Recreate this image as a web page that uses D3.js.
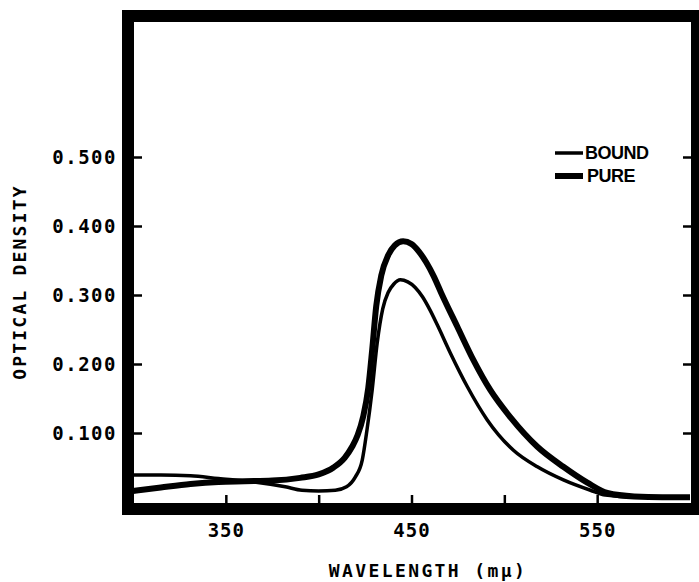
<!DOCTYPE html>
<html>
<head>
<meta charset="utf-8">
<script src="https://cdn.jsdelivr.net/npm/d3@7"></script>
<style>
  body { margin: 0; background: #fff; }
  svg { display: block; }
  .tickLabel { font-family: "DejaVu Sans Mono", monospace; font-weight: bold; font-size: 19px; fill: #000; }
  .axisTitle { font-family: "DejaVu Sans Mono", monospace; font-weight: bold; fill: #000; }
  .legendText { font-family: "Liberation Sans", Arial, sans-serif; font-weight: bold; font-size: 18px; fill: #000; }
</style>
</head>
<body>
<div class="chart"></div>
<script>
// values (wavelength in m\u03bc, optical density)
var pureWl = [300, 315, 331, 346, 360, 375, 390, 400, 408, 414, 418, 421, 424, 426.7, 428.8, 431, 433.7, 437.5, 441, 445.5, 450, 454, 458, 462, 466, 474.7, 483.3, 492.5, 503.2, 517.8, 531.8, 544.7, 555.5, 570, 585, 600];
var pureOd = [0.016, 0.021, 0.026, 0.029, 0.030, 0.031, 0.035, 0.040, 0.050, 0.064, 0.080, 0.097, 0.124, 0.165, 0.220, 0.284, 0.328, 0.358, 0.372, 0.378, 0.374, 0.363, 0.347, 0.327, 0.303, 0.254, 0.206, 0.162, 0.123, 0.080, 0.051, 0.028, 0.013, 0.008, 0.007, 0.007];

var boundWl = [300, 315, 331, 346, 362, 382, 391, 400, 409, 415, 419.7, 423.5, 426, 428.8, 431.5, 434.5, 437.5, 440.5, 444, 448, 452, 456, 460, 464, 470.9, 480.1, 490.8, 504.9, 517.8, 531.8, 546.4, 554.4, 570, 585, 600];
var boundOd = [0.039, 0.039, 0.038, 0.034, 0.030, 0.022, 0.017, 0.016, 0.017, 0.022, 0.036, 0.061, 0.104, 0.162, 0.230, 0.280, 0.304, 0.316, 0.322, 0.319, 0.311, 0.297, 0.278, 0.256, 0.216, 0.167, 0.119, 0.075, 0.051, 0.032, 0.017, 0.010, 0.007, 0.007, 0.007];

var wlTicks = [350, 400, 450, 500, 550];
var wlLabels = ["350", "", "450", "", "550"];
var odTicks = [0.1, 0.2, 0.3, 0.4, 0.5];
var odLabels = ["0.100", "0.200", "0.300", "0.400", "0.500"];
var seriesNames = ["BOUND", "PURE"];

var svgWidth = 699;
var svgHeight = 582;

var svg = d3.select(".chart")
  .append("svg")
  .attr("width", svgWidth)
  .attr("height", svgHeight);

// scales
var xScale = d3.scaleLinear().domain([300, 600]).range([133, 690]);
var yScale = d3.scaleLinear().domain([0, 0.5]).range([502, 157]);

// curves first, frame drawn over them
var line = d3.line()
  .x(d => xScale(d[0]))
  .y(d => yScale(d[1]))
  .curve(d3.curveMonotoneX);

var pureData = pureWl.map((w, i) => [w, pureOd[i]]);
var boundData = boundWl.map((w, i) => [w, boundOd[i]]);

svg.append("path")
  .datum(boundData)
  .attr("d", line)
  .attr("fill", "none")
  .attr("stroke", "#000")
  .attr("stroke-width", 3.5);

svg.append("path")
  .datum(pureData)
  .attr("d", line)
  .attr("fill", "none")
  .attr("stroke", "#000")
  .attr("stroke-width", 6);

// thick frame
svg.append("rect")
  .attr("x", 128)
  .attr("y", 16)
  .attr("width", 569)
  .attr("height", 493)
  .attr("fill", "none")
  .attr("stroke", "#000")
  .attr("stroke-width", 12);

// axes, ticks point inward
var leftAxis = d3.axisLeft(yScale)
  .tickValues(odTicks)
  .tickSize(-8)
  .tickPadding(17)
  .tickFormat((d, i) => odLabels[i]);

var rightAxis = d3.axisRight(yScale)
  .tickValues(odTicks)
  .tickSize(-8)
  .tickFormat("");

var bottomAxis = d3.axisBottom(xScale)
  .tickValues(wlTicks)
  .tickSize(-8)
  .tickPadding(21)
  .tickFormat((d, i) => wlLabels[i]);

var gLeft = svg.append("g").attr("transform", "translate(134,0)").call(leftAxis);
var gRight = svg.append("g").attr("transform", "translate(691,0)").call(rightAxis);
var gBottom = svg.append("g").attr("transform", "translate(0,503)").call(bottomAxis);

[gLeft, gRight, gBottom].forEach(function(g) {
  g.select(".domain").remove();
  g.selectAll(".tick line").attr("stroke", "#000").attr("stroke-width", 2.5);
  g.selectAll(".tick text")
    .attr("class", "tickLabel")
    .attr("font-family", null)
    .attr("font-size", null)
    .attr("fill", "#000");
});
gLeft.selectAll(".tick text").style("letter-spacing", "1.5px");
gBottom.selectAll(".tick text").style("letter-spacing", "1px");

// axis titles
svg.append("text")
  .attr("class", "axisTitle")
  .attr("transform", "translate(26, 282) rotate(-90)")
  .attr("text-anchor", "middle")
  .style("font-size", "18px")
  .style("letter-spacing", "2.2px")
  .text("OPTICAL DENSITY");

svg.append("text")
  .attr("class", "axisTitle")
  .attr("x", 428)
  .attr("y", 577)
  .attr("text-anchor", "middle")
  .style("font-size", "18px")
  .style("letter-spacing", "2.4px")
  .text("WAVELENGTH (m\u03bc)");

// legend
var legendY = [153, 176];
var legendW = [3.5, 6];
var legend = svg.selectAll(".legendItem")
  .data(seriesNames)
  .enter()
  .append("g")
  .attr("class", "legendItem");

legend.append("line")
  .attr("x1", 555)
  .attr("x2", 583)
  .attr("y1", (d, i) => legendY[i])
  .attr("y2", (d, i) => legendY[i])
  .attr("stroke", "#000")
  .attr("stroke-width", (d, i) => legendW[i]);

legend.append("text")
  .attr("class", "legendText")
  .attr("x", (d, i) => i == 0 ? 585 : 587)
  .attr("y", (d, i) => legendY[i] + 6)
  .style("letter-spacing", "-0.5px")
  .text(d => d);
</script>
</body>
</html>
